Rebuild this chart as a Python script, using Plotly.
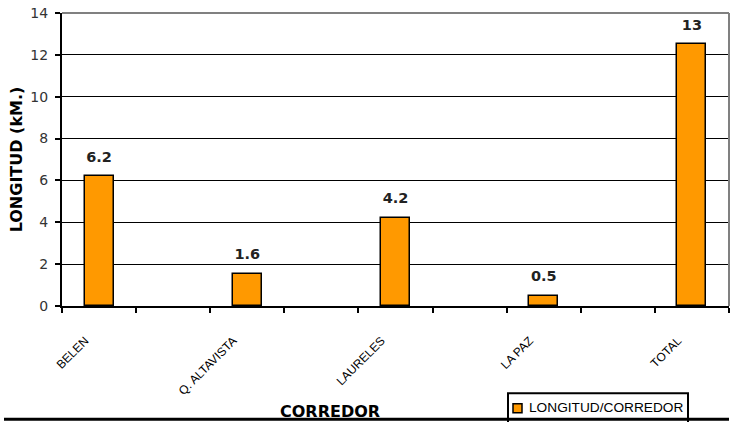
import plotly.graph_objects as go

# Corridor lengths (km)
corredores = ["BELEN", "Q. ALTAVISTA", "LAURELES", "LA PAZ", "TOTAL"]
longitudes = [6.2, 1.55, 4.2, 0.5, 12.5]
serie = "LONGITUD/CORREDOR"

# each corridor occupies every other slot on a 9-slot axis
slot_step = 2
n_slots = slot_step * (len(corredores) - 1) + 1
xpos = [slot_step * i for i in range(len(corredores))]

y_ticks = [0, 2, 4, 6, 8, 10, 12, 14]

ORANGE = "#FF9900"
W, H = 730, 422
L, R, T, B = 62, 1, 13, 115.5
plot_h = H - T - B
plot_w = W - L - R


def py_paper(py):
    return (H - B - py) / plot_h


def px_paper(px):
    return (px - L) / plot_w


fig = go.Figure()

fig.add_trace(go.Bar(
    x=xpos,
    y=longitudes,
    width=0.39,
    name=serie,
    marker=dict(color=ORANGE, line=dict(color="black", width=1.5)),
    showlegend=False,
))

# value labels floating above each bar
fig.add_trace(go.Scatter(
    x=xpos,
    y=longitudes,
    mode="markers+text",
    marker=dict(size=16, opacity=0),
    texttemplate="%{y:.2~r}",
    textposition="top center",
    textfont=dict(family="DejaVu Sans", size=14.5, color="#222222", weight="bold"),
    showlegend=False,
    hoverinfo="skip",
    cliponaxis=False,
))

fig.update_layout(
    width=W,
    height=H,
    margin=dict(l=L, r=R, t=T, b=B, pad=0, autoexpand=False),
    paper_bgcolor="white",
    plot_bgcolor="white",
    font=dict(family="Liberation Sans", color="black"),
    bargap=0,
    showlegend=False,
)

fig.update_xaxes(
    range=[-0.5, n_slots - 0.5],
    tickvals=xpos,
    ticktext=corredores,
    tickangle=-45,
    ticks="",
    ticklabelstandoff=21,
    ticklabelshift=-14,
    tickfont=dict(family="Liberation Sans", size=12, color="black"),
    showgrid=False,
    zeroline=False,
    showline=True,
    linecolor="black",
    linewidth=2,
    minor=dict(tick0=-0.5, dtick=1, ticks="outside", ticklen=5,
               tickcolor="black", tickwidth=1.5, showgrid=False),
)

fig.update_yaxes(
    range=[0, 14],
    tickvals=y_ticks,
    ticks="outside",
    ticklen=5,
    tickwidth=1.5,
    tickcolor="black",
    ticklabelstandoff=4,
    tickfont=dict(family="DejaVu Sans", size=14, color="#333333"),
    showgrid=True,
    gridcolor="black",
    gridwidth=1,
    zeroline=False,
    showline=True,
    linecolor="black",
    linewidth=2,
    title=dict(text="LONGITUD (kM.)",
               font=dict(family="DejaVu Sans", size=16, color="black", weight="bold"),
               standoff=4),
)

# plot area border (top and right) in gray
fig.add_shape(type="line", xref="paper", yref="paper", x0=0, x1=1, y0=1, y1=1,
              line=dict(color="#808080", width=2), layer="above")
fig.add_shape(type="line", xref="paper", yref="paper", x0=1, x1=1, y0=0, y1=1,
              line=dict(color="#808080", width=2), layer="above")

# legend box with swatch and series name
fig.add_shape(type="rect", xref="paper", yref="paper",
              x0=px_paper(508), x1=px_paper(688), y0=py_paper(430), y1=py_paper(394),
              line=dict(color="black", width=2), fillcolor="white", layer="above")
fig.add_shape(type="rect", xref="paper", yref="paper",
              x0=px_paper(513), x1=px_paper(522), y0=py_paper(413.5), y1=py_paper(404.5),
              line=dict(color="black", width=1.5), fillcolor=ORANGE, layer="above")
fig.add_annotation(
    text=serie, xref="paper", yref="paper",
    x=px_paper(527), y=py_paper(408),
    xanchor="left", yanchor="middle", showarrow=False,
    font=dict(family="Liberation Sans", size=13.7, color="black"),
)

# chart bottom rule
fig.add_shape(type="line", xref="paper", yref="paper",
              x0=px_paper(4), x1=1.0, y0=py_paper(420), y1=py_paper(420),
              line=dict(color="black", width=3), layer="above")

# x axis title
fig.add_annotation(
    text="<b>CORREDOR</b>", xref="paper", yref="paper",
    x=px_paper(330), y=py_paper(412),
    xanchor="center", yanchor="middle", showarrow=False,
    font=dict(family="DejaVu Sans", size=16, color="black"),
)

fig.write_html("out.html")
